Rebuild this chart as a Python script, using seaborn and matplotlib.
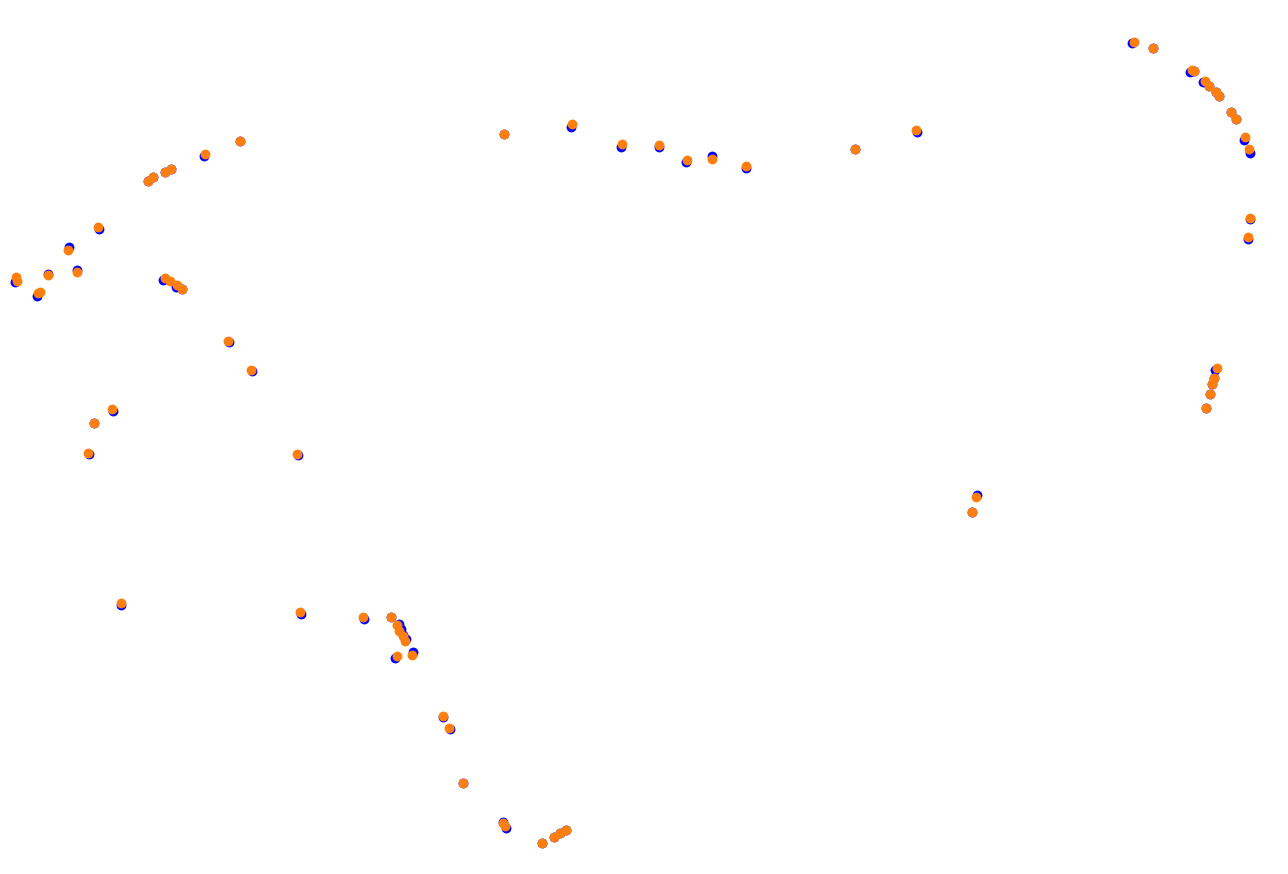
import matplotlib
matplotlib.use("Agg")
import matplotlib.pyplot as plt
import seaborn as sns

# positions (x to the right, y downwards)
blue_x = [240, 204, 153, 148, 165, 171, 99, 69, 48, 77, 15, 16, 37, 163, 176, 182,
          229, 252, 113, 94, 89, 298, 121, 301,
          364, 391, 399, 401, 403, 406, 395, 413, 443, 450, 463,
          503, 506, 542, 554, 560, 566,
          504, 571, 621, 659, 686, 712, 746, 855, 917,
          1132, 1153, 1190, 1194, 1203, 1209, 1216, 1219, 1231, 1236, 1244, 1250, 1250, 1248,
          1215, 1214, 1212, 1210, 1206, 977, 972]
blue_y = [141, 156, 177, 181, 172, 169, 229, 247, 274, 270, 282, 280, 296, 280, 287, 289,
          342, 371, 411, 423, 454, 455, 605, 614,
          619, 617, 624, 629, 635, 639, 658, 652, 717, 729, 783,
          822, 828, 843, 837, 833, 830,
          134, 127, 147, 147, 162, 156, 168, 149, 132,
          43, 48, 72, 71, 82, 86, 92, 96, 112, 119, 140, 153, 219, 239,
          370, 378, 384, 394, 408, 495, 512]

orange_x = [240, 205, 153, 148, 165, 171, 98, 68, 48, 77, 16, 17, 38, 40, 165, 170, 177, 182,
            228, 251, 112, 94, 88, 297, 121, 300,
            363, 391, 397, 399, 403, 405, 397, 412, 443, 449, 463,
            503, 505, 542, 554, 560, 566,
            504, 572, 622, 659, 687, 712, 746, 855, 916,
            1134, 1153, 1192, 1194, 1205, 1209, 1216, 1219, 1231, 1236, 1245, 1249, 1250, 1248,
            1217, 1214, 1212, 1210, 1206, 976, 972]
orange_y = [141, 154, 177, 181, 172, 169, 227, 250, 275, 272, 277, 281, 293, 292, 278, 281, 285, 289,
            341, 370, 409, 423, 453, 454, 603, 612,
            617, 617, 625, 631, 636, 641, 656, 655, 716, 728, 783,
            823, 826, 843, 837, 833, 830,
            134, 124, 144, 145, 160, 159, 166, 149, 130,
            42, 48, 70, 71, 81, 86, 92, 96, 112, 119, 137, 149, 218, 237,
            368, 378, 384, 394, 408, 497, 512]

fig = plt.figure(figsize=(12.88, 8.74), dpi=100)
ax = fig.add_axes([0, 0, 1, 1])

sns.scatterplot(x=blue_x, y=blue_y, color="blue", s=50, linewidth=0, ax=ax)
sns.scatterplot(x=orange_x, y=orange_y, color="#ff7f0e", s=50, linewidth=0, ax=ax)

ax.set_xlim(0, 1288)
ax.set_ylim(874, 0)
ax.axis("off")

fig.savefig("out.png", dpi=100)
